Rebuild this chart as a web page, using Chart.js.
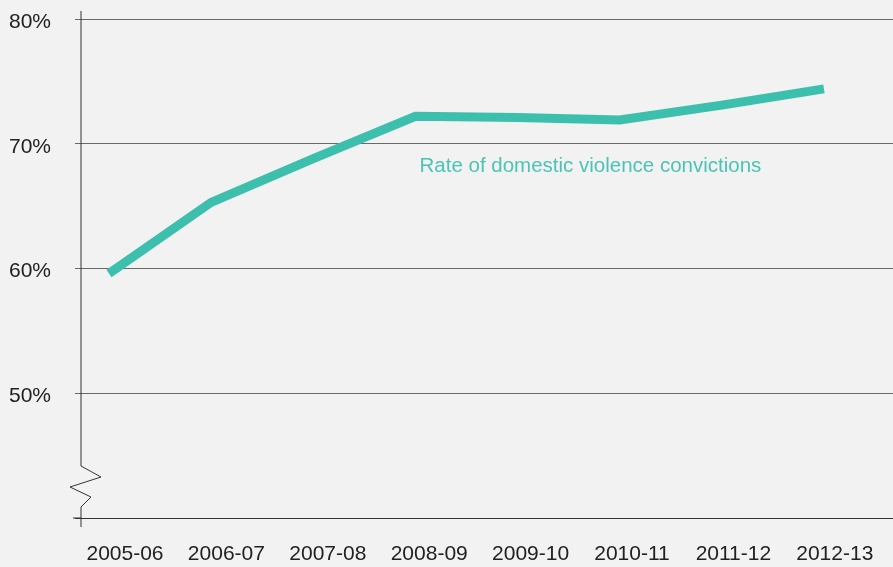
<!DOCTYPE html>
<html>
<head>
<meta charset="utf-8">
<script src="https://cdn.jsdelivr.net/npm/chart.js@4/dist/chart.umd.min.js"></script>
<style>
  html, body { margin: 0; padding: 0; background: #f1f2f1; }
  #wrap { width: 893px; height: 567px; }
</style>
</head>
<body>
<div id="wrap"><canvas id="chart"></canvas></div>
<script>
const years = ['2005-06', '2006-07', '2007-08', '2008-09', '2009-10', '2010-11', '2011-12', '2012-13'];
const convictionRate = [59.6, 65.3, 68.8, 72.2, 72.1, 71.9, 73.1, 74.4];
const yTicks = [40, 50, 60, 70, 80];
const seriesLabel = 'Rate of domestic violence convictions';

const teal = '#3dbfad';
const font = { family: '"Liberation Sans", Arial, sans-serif', size: 21 };

// y axis line with the broken-scale zigzag, plus the small bottom tick
const axisDecor = {
  id: 'axisDecor',
  afterDraw(chart) {
    const ctx = chart.ctx;
    const y = chart.scales.y;
    const x0 = chart.chartArea.left;
    const yb = y.getPixelForValue(40);
    ctx.save();
    ctx.strokeStyle = '#333';
    ctx.lineWidth = 1;
    ctx.beginPath();
    ctx.moveTo(x0, chart.chartArea.top - 8);
    ctx.lineTo(x0, 466);
    ctx.lineTo(x0 + 20, 477);
    ctx.lineTo(x0 - 11, 487);
    ctx.lineTo(x0 + 10, 497);
    ctx.lineTo(x0, 507);
    ctx.lineTo(x0, yb + 9);
    ctx.moveTo(x0 - 8, yb);
    ctx.lineTo(x0, yb);
    ctx.stroke();

    // series label
    const xs = chart.scales.x;
    ctx.fillStyle = '#4cc4b3';
    ctx.font = '20.5px "Liberation Sans", Arial, sans-serif';
    ctx.textBaseline = 'middle';
    ctx.textAlign = 'left';
    ctx.fillText(seriesLabel, xs.getPixelForValue(3.04), y.getPixelForValue(68.2));
    ctx.restore();
  }
};

new Chart(document.getElementById('chart'), {
  type: 'line',
  data: {
    datasets: [{
      label: seriesLabel,
      data: convictionRate.map((v, i) => ({ x: i, y: v })),
      borderColor: teal,
      borderWidth: 9,
      borderCapStyle: 'butt',
      borderJoinStyle: 'miter',
      pointRadius: 0,
      tension: 0,
      fill: false
    }]
  },
  options: {
    responsive: true,
    maintainAspectRatio: false,
    animation: false,
    layout: { padding: { top: 19, right: 0, left: 0, bottom: 0 } },
    plugins: { legend: { display: false }, tooltip: { enabled: false } },
    scales: {
      x: {
        type: 'linear',
        display: false,
        min: -0.274,
        max: 7.676
      },
      x2: {
        type: 'linear',
        position: 'bottom',
        min: -0.434,
        max: 7.574,
        grid: { display: false, drawTicks: false },
        border: { display: false },
        ticks: {
          stepSize: 1,
          includeBounds: false,
          autoSkip: false,
          maxRotation: 0,
          padding: 24,
          color: '#222',
          font: font,
          callback: v => Number.isInteger(v) ? (years[v] || '') : ''
        },
        afterFit(scale) {
          scale.height = 49;
          scale.paddingLeft = 0;
          scale.paddingRight = 0;
        }
      },
      y: {
        min: 40,
        max: 80,
        afterBuildTicks(scale) { scale.ticks = yTicks.map(v => ({ value: v })); },
        grid: {
          color: ctx => ctx.tick && ctx.tick.value === 40 ? '#333' : '#6a6a6a',
          lineWidth: 1,
          drawTicks: true,
          tickLength: 6
        },
        border: { display: false },
        ticks: {
          padding: 24,
          labelOffset: 3,
          color: '#222',
          font: font,
          callback: v => v === 40 ? '' : v + '%'
        },
        afterFit(scale) {
          scale.width = 81;
          scale.paddingTop = 0;
          scale.paddingBottom = 0;
        }
      }
    }
  },
  plugins: [axisDecor]
});
</script>
</body>
</html>
